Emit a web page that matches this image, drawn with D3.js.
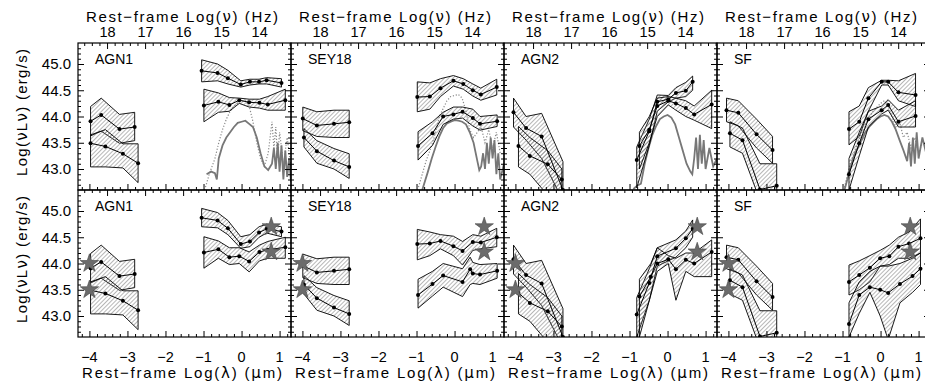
<!DOCTYPE html>
<html>
<head>
<meta charset="utf-8">
<script src="https://cdn.jsdelivr.net/npm/d3@7"></script>
<style>
  body { margin: 0; background: #fff; }
  svg text { font-family: "Liberation Sans", Arial, sans-serif; fill: #000; }
  svg tspan.greek { font-family: "DejaVu Sans", sans-serif; }
</style>
</head>
<body>
<svg id="chart" width="925" height="385"></svg>
<script>
// ---- data ----
const classes = ['AGN1', 'SEY18', 'AGN2', 'SF'];
const lambdaTicks = [-4, -3, -2, -1, 0, 1];
const nuTicks = [18, 17, 16, 15, 14];
const lumTicks = [43.0, 43.5, 44.0, 44.5, 45.0];

// X-ray bands (same in both rows)
const agn1XrayA = { x: [-3.97, -3.69, -3.21, -2.81], mid: [43.91, 44.03, 43.76, 43.80], hi: [44.19, 44.35, 44.04, 44.08], lo: [43.63, 43.72, 43.49, 43.54] };
const agn1XrayB = { x: [-3.97, -3.58, -3.12, -2.72], mid: [43.49, 43.43, 43.29, 43.11], hi: [43.65, 43.75, 43.48, 43.48], lo: [43.04, 43.04, 43.02, 42.74] };
const sey18XrayA = { x: [-3.99, -3.62, -3.17, -2.77], mid: [43.96, 43.83, 43.86, 43.89], hi: [44.18, 44.09, 44.12, 44.12], lo: [43.73, 43.62, 43.60, 43.60] };
const sey18XrayB = { x: [-3.96, -3.62, -3.17, -2.77], mid: [43.60, 43.34, 43.16, 43.04], hi: [43.77, 43.54, 43.39, 43.29], lo: [43.42, 43.11, 43.00, 42.82] };
const agn2XrayA = { x: [-4.05, -3.72, -3.31, -2.75], mid: [44.08, 43.78, 43.62, 42.60], hi: [44.35, 44.00, 44.06, 43.14], lo: [43.80, 43.55, 43.20, 42.40] };
const agn2XrayB = { x: [-3.92, -3.62, -3.15, -2.78], mid: [43.44, 43.25, 43.09, 42.80], hi: [43.81, 43.60, 43.35, 43.00], lo: [43.04, 42.90, 42.50, 42.40] };
const sfXrayA = { x: [-4.05, -3.74, -3.26, -2.84], mid: [44.12, 44.07, 43.66, 43.36], hi: [44.35, 44.30, 43.95, 43.62], lo: [43.90, 43.82, 43.40, 43.11] };
const sfXrayB = { x: [-3.96, -3.63, -3.17, -2.73], mid: [43.68, 43.55, 42.61, 42.68], hi: [43.90, 43.78, 43.10, 43.10], lo: [43.42, 43.30, 42.40, 42.40] };

// optical / IR bands, top row
const agn1OirTopA = { x: [-1.05, -0.63, -0.36, -0.02, 0.22, 0.46, 0.66, 1.05], mid: [44.87, 44.83, 44.73, 44.61, 44.66, 44.66, 44.69, 44.64], hi: [45.08, 45.00, 44.88, 44.68, 44.71, 44.71, 44.74, 44.72], lo: [44.66, 44.68, 44.62, 44.56, 44.60, 44.62, 44.62, 44.56] };
const agn1OirTopB = { x: [-0.99, -0.61, -0.32, -0.06, 0.20, 0.47, 0.69, 1.15], mid: [44.21, 44.28, 44.22, 44.31, 44.27, 44.26, 44.23, 44.31], hi: [44.52, 44.45, 44.36, 44.35, 44.33, 44.33, 44.38, 44.52], lo: [43.90, 44.08, 44.10, 44.25, 44.18, 44.16, 44.12, 44.12] };
const sey18OirTopA = { x: [-0.98, -0.65, -0.37, -0.03, 0.23, 0.48, 0.69, 1.11], mid: [44.37, 44.38, 44.54, 44.68, 44.62, 44.50, 44.42, 44.56], hi: [44.66, 44.64, 44.72, 44.78, 44.72, 44.62, 44.54, 44.71], lo: [44.09, 44.14, 44.38, 44.58, 44.52, 44.39, 44.31, 44.41] };
const sey18OirTopB = { x: [-0.96, -0.58, -0.30, -0.03, 0.21, 0.48, 0.67, 1.12], mid: [43.44, 43.68, 44.00, 44.04, 44.09, 43.97, 43.86, 43.91], hi: [43.71, 43.90, 44.08, 44.18, 44.18, 44.14, 44.00, 44.03], lo: [43.17, 43.45, 43.85, 43.95, 43.97, 43.82, 43.74, 43.81] };
const agn2OirTopA = { x: [-0.81, -0.48, -0.27, 0.02, 0.22, 0.48, 0.66], mid: [43.17, 43.72, 44.28, 44.33, 44.45, 44.49, 44.66], hi: [43.42, 43.95, 44.41, 44.40, 44.55, 44.65, 44.77], lo: [42.64, 43.45, 44.10, 44.28, 44.35, 44.38, 44.50] };
const agn2OirTopB = { x: [-0.74, -0.48, -0.27, 0.02, 0.22, 0.48, 0.70, 1.16], mid: [43.44, 43.75, 44.20, 44.30, 44.25, 44.16, 44.04, 44.23], hi: [43.70, 44.00, 44.35, 44.38, 44.35, 44.30, 44.20, 44.50], lo: [43.00, 43.50, 44.00, 44.22, 44.12, 44.00, 43.93, 43.77] };
const sfOirTopA = { x: [-0.83, -0.56, -0.32, 0.03, 0.20, 0.47, 0.92], mid: [43.76, 43.90, 44.35, 44.66, 44.66, 44.46, 44.41], hi: [44.09, 44.20, 44.55, 44.69, 44.69, 44.68, 44.82], lo: [43.46, 43.62, 44.10, 44.60, 44.60, 44.30, 44.19] };
const sfOirTopB = { x: [-0.83, -0.56, -0.32, 0.03, 0.20, 0.47, 0.92], mid: [42.90, 43.49, 43.95, 44.12, 44.22, 43.90, 44.01], hi: [43.20, 43.70, 44.10, 44.20, 44.32, 44.12, 44.30], lo: [42.60, 43.25, 43.80, 44.05, 44.12, 43.80, 43.80] };

// optical / IR bands, bottom row
const agn1OirBotA = { x: [-1.05, -0.63, -0.36, -0.02, 0.22, 0.46, 0.66, 1.05], mid: [44.87, 44.82, 44.67, 44.37, 44.42, 44.59, 44.66, 44.61], hi: [45.05, 44.97, 44.82, 44.51, 44.55, 44.70, 44.75, 44.70], lo: [44.70, 44.68, 44.55, 44.29, 44.32, 44.50, 44.58, 44.51] };
const agn1OirBotB = { x: [-0.99, -0.61, -0.32, -0.06, 0.20, 0.47, 0.69, 1.15], mid: [44.21, 44.27, 44.12, 44.14, 44.04, 44.22, 44.26, 44.31], hi: [44.51, 44.43, 44.30, 44.30, 44.22, 44.35, 44.42, 44.50], lo: [43.91, 44.10, 43.98, 44.00, 43.84, 44.05, 44.10, 44.10] };
const sey18OirBotA = { x: [-0.98, -0.65, -0.37, -0.03, 0.21, 0.48, 0.69, 1.11], mid: [44.37, 44.38, 44.43, 44.33, 44.24, 44.41, 44.40, 44.50], hi: [44.65, 44.60, 44.55, 44.52, 44.42, 44.55, 44.52, 44.67], lo: [44.07, 44.15, 44.28, 44.15, 43.97, 44.25, 44.28, 44.32] };
const sey18OirBotB = { x: [-0.96, -0.58, -0.30, 0.21, 0.41, 0.48, 0.67, 1.12], mid: [43.40, 43.61, 43.77, 43.65, 43.89, 43.81, 43.79, 43.86], hi: [43.70, 43.85, 44.00, 43.90, 44.12, 44.02, 43.98, 44.00], lo: [43.15, 43.38, 43.55, 43.37, 43.60, 43.62, 43.60, 43.72] };
const agn2OirBotA = { x: [-0.81, -0.48, -0.27, 0.22, 0.48, 0.66], mid: [43.03, 43.63, 44.14, 44.29, 44.48, 44.66], hi: [43.35, 43.90, 44.30, 44.45, 44.62, 44.83], lo: [42.60, 43.30, 43.95, 44.12, 44.30, 44.50] };
const agn2OirBotB = { x: [-0.74, -0.44, -0.27, 0.02, 0.22, 0.48, 0.70, 1.16], mid: [43.37, 43.75, 44.00, 44.08, 43.89, 44.07, 44.00, 44.22], hi: [43.70, 44.00, 44.30, 44.15, 44.10, 44.20, 44.20, 44.45], lo: [42.60, 43.40, 43.85, 44.00, 43.30, 43.85, 43.75, 43.75] };
const sfOirBotA = { x: [-0.83, -0.56, -0.28, -0.01, 0.23, 0.47, 0.75, 1.05], mid: [43.65, 43.78, 43.92, 44.10, 44.14, 44.32, 44.38, 44.48], hi: [43.97, 44.05, 44.15, 44.25, 44.35, 44.50, 44.60, 44.85], lo: [43.40, 43.50, 43.65, 43.95, 43.98, 44.10, 44.10, 44.20] };
const sfOirBotB = { x: [-0.83, -0.56, -0.28, -0.01, 0.20, 0.51, 0.84, 1.05], mid: [42.85, 43.40, 43.55, 43.50, 43.44, 43.61, 43.76, 43.90], hi: [43.25, 43.65, 43.85, 43.95, 43.95, 44.00, 44.10, 44.20], lo: [42.60, 43.05, 43.45, 43.00, 42.55, 43.25, 43.45, 43.60] };

// gray template spectra (top row only)
const agn1SolidX = [-0.92, -0.8, -0.7, -0.65, -0.6, -0.5, -0.4, -0.3, -0.2, -0.1, 0.0, 0.1, 0.2, 0.3, 0.4, 0.5, 0.6, 0.7, 0.8, 0.85, 0.9, 0.95, 1.0, 1.05, 1.1, 1.15, 1.2, 1.25, 1.3];
const agn1SolidY = [42.90, 42.95, 42.92, 42.80, 43.20, 43.45, 43.60, 43.70, 43.80, 43.88, 43.90, 43.92, 43.86, 43.80, 43.60, 43.30, 43.05, 42.98, 43.10, 43.40, 43.00, 43.50, 42.95, 43.45, 42.80, 43.35, 42.85, 43.20, 42.75];
const agn1DotX = [-0.97, -0.85, -0.7, -0.6, -0.5, -0.4, -0.3, -0.2, -0.1, 0.0, 0.1, 0.2, 0.3, 0.4, 0.5, 0.6, 0.7, 0.8, 0.85, 0.9, 0.95, 1.0, 1.1, 1.2, 1.3];
const agn1DotY = [42.60, 42.90, 43.20, 43.50, 43.75, 43.95, 44.10, 44.20, 44.25, 44.30, 44.30, 44.20, 43.90, 43.50, 43.20, 43.05, 43.30, 43.90, 43.40, 43.80, 43.20, 43.70, 43.10, 43.60, 43.00];
const sey18SolidX = [-0.85, -0.7, -0.6, -0.5, -0.4, -0.3, -0.2, -0.1, 0.0, 0.1, 0.2, 0.3, 0.4, 0.5, 0.6, 0.65, 0.7, 0.75, 0.8, 0.85, 0.9, 0.95, 1.0, 1.05, 1.1, 1.15, 1.2, 1.3];
const sey18SolidY = [42.60, 42.95, 43.20, 43.42, 43.62, 43.78, 43.87, 43.90, 43.93, 43.92, 43.90, 43.85, 43.70, 43.50, 43.15, 42.98, 43.05, 43.30, 43.00, 43.50, 43.10, 43.60, 43.20, 43.55, 42.90, 43.30, 42.80, 43.10];
const sey18DotX = [-0.97, -0.85, -0.75, -0.6, -0.5, -0.4, -0.3, -0.2, -0.1, 0.0, 0.1, 0.2, 0.3, 0.4, 0.5, 0.6, 0.7, 0.8, 0.9, 1.0, 1.1, 1.2];
const sey18DotY = [42.60, 42.90, 43.15, 43.45, 43.70, 44.00, 44.15, 44.30, 44.38, 44.40, 44.42, 44.35, 44.10, 43.75, 43.60, 43.70, 43.80, 43.50, 43.75, 43.40, 43.70, 43.30];
const agn2SolidX = [-0.9, -0.8, -0.7, -0.6, -0.5, -0.4, -0.3, -0.2, -0.1, 0.0, 0.1, 0.2, 0.3, 0.4, 0.5, 0.6, 0.65, 0.7, 0.75, 0.8, 0.85, 0.9, 0.95, 1.0, 1.1, 1.2, 1.3];
const agn2SolidY = [42.62, 42.68, 42.72, 43.10, 43.40, 43.65, 43.82, 43.95, 44.00, 44.03, 43.98, 43.85, 43.60, 43.35, 43.10, 42.95, 42.90, 43.20, 43.60, 43.00, 43.65, 43.10, 43.55, 43.00, 43.40, 43.05, 43.20];
const agn2DotX = [];
const agn2DotY = [];
const sfSolidX = [-0.95, -0.9, -0.8, -0.7, -0.6, -0.5, -0.4, -0.3, -0.2, -0.1, 0.0, 0.1, 0.2, 0.3, 0.4, 0.5, 0.6, 0.7, 0.75, 0.8, 0.85, 0.9, 0.95, 1.0, 1.1, 1.2];
const sfSolidY = [42.60, 42.73, 43.00, 43.25, 43.40, 43.55, 43.70, 43.80, 43.88, 43.95, 44.00, 44.03, 44.00, 43.90, 43.75, 43.55, 43.36, 43.15, 43.50, 43.05, 43.60, 43.10, 43.70, 43.20, 43.60, 43.30];
const sfDotX = [-0.95, -0.8, -0.6, -0.4, -0.2, 0.0, 0.1, 0.2, 0.3, 0.4, 0.5, 0.6, 0.7, 0.8, 0.9, 1.0, 1.1];
const sfDotY = [42.65, 43.10, 43.50, 43.85, 44.10, 44.25, 44.30, 44.20, 44.00, 43.80, 43.90, 43.60, 43.70, 43.40, 43.60, 43.30, 43.50];

// stars in the bottom row
const starX = [-4.0, -4.0, 0.78, 0.78];
const starY = [44.0, 43.5, 44.7, 44.22];

const xrayBands = [[agn1XrayA, agn1XrayB], [sey18XrayA, sey18XrayB], [agn2XrayA, agn2XrayB], [sfXrayA, sfXrayB]];
const oirTopBands = [[agn1OirTopA, agn1OirTopB], [sey18OirTopA, sey18OirTopB], [agn2OirTopA, agn2OirTopB], [sfOirTopA, sfOirTopB]];
const oirBotBands = [[agn1OirBotA, agn1OirBotB], [sey18OirBotA, sey18OirBotB], [agn2OirBotA, agn2OirBotB], [sfOirBotA, sfOirBotB]];
const solidTemplates = [[agn1SolidX, agn1SolidY], [sey18SolidX, sey18SolidY], [agn2SolidX, agn2SolidY], [sfSolidX, sfSolidY]];
const dotTemplates = [[agn1DotX, agn1DotY], [sey18DotX, sey18DotY], [agn2DotX, agn2DotY], [sfDotX, sfDotY]];

// ---- layout ----
const colX0 = [78, 291, 504, 717];
const rowY0 = [43, 190];
const panelW = 213;
const panelH = 147;
const xDomain = [-4.3, 1.3];
const yDomain = [42.6, 45.4];
const logC = Math.log10(2.998e14); // c in micron/s
const majorLen = 6;
const minorLen = 3;

const svg = d3.select('#chart');
const defs = svg.append('defs');

defs.append('pattern')
  .attr('id', 'hatch')
  .attr('patternUnits', 'userSpaceOnUse')
  .attr('width', 3)
  .attr('height', 3)
  .attr('patternTransform', 'rotate(45)')
  .append('line')
  .attr('x1', 0).attr('y1', 0).attr('x2', 0).attr('y2', 3)
  .attr('stroke', '#707070')
  .attr('stroke-width', 1);

function range(a, b, step) {
  const out = [];
  for (let v = a; v <= b + 1e-9; v += step) out.push(Math.round(v * 100) / 100);
  return out;
}

const lambdaMinor = range(-4.2, 1.2, 0.2).filter(v => Math.abs(v - Math.round(v)) > 1e-6);
const nuMinor = range(13.2, 18.6, 0.2).filter(v => Math.abs(v - Math.round(v)) > 1e-6);
const lumMinor = range(42.7, 45.3, 0.1).filter(v => Math.abs(v * 2 - Math.round(v * 2)) > 1e-6);

function toPoints(band) {
  return band.x.map((v, i) => ({ x: v, mid: band.mid[i], lo: band.lo[i], hi: band.hi[i] }));
}

function drawBand(layer, band, x, y) {
  const pts = toPoints(band);
  const area = d3.area().x(d => x(d.x)).y0(d => y(d.lo)).y1(d => y(d.hi));
  layer.append('path')
    .attr('d', area(pts))
    .attr('fill', 'url(#hatch)')
    .attr('stroke', '#000')
    .attr('stroke-width', 0.9);
}

function drawBandCentre(layer, band, x, y) {
  const pts = toPoints(band);
  const line = d3.line().x(d => x(d.x)).y(d => y(d.mid));
  layer.append('path')
    .attr('d', line(pts))
    .attr('fill', 'none')
    .attr('stroke', '#000')
    .attr('stroke-width', 1);
  layer.selectAll(null)
    .data(pts)
    .join('circle')
    .attr('cx', d => x(d.x))
    .attr('cy', d => y(d.mid))
    .attr('r', 2)
    .attr('fill', '#000');
}

// text with the greek letters set in DejaVu so they read as nu / lambda / mu
function richText(sel, parts) {
  parts.forEach(p => {
    sel.append('tspan').attr('class', p.g ? 'greek' : null).text(p.t);
  });
}

function drawPanel(col, row) {
  const x0 = colX0[col];
  const y0 = rowY0[row];
  const x = d3.scaleLinear().domain(xDomain).range([x0, x0 + panelW]);
  const y = d3.scaleLinear().domain(yDomain).range([y0 + panelH, y0]);
  const clipId = `clip-${col}-${row}`;
  defs.append('clipPath').attr('id', clipId)
    .append('rect').attr('x', x0).attr('y', y0).attr('width', panelW).attr('height', panelH);

  const panel = svg.append('g').attr('class', `panel panel-${col}-${row}`);
  const plot = panel.append('g').attr('clip-path', `url(#${clipId})`);

  if (row === 0) {
    const [dx, dy] = dotTemplates[col];
    const dotLine = d3.line().x(d => x(d[0])).y(d => y(d[1]));
    if (dx.length) {
      plot.append('path')
        .attr('d', dotLine(dx.map((v, i) => [v, dy[i]])))
        .attr('fill', 'none')
        .attr('stroke', '#8a8a8a')
        .attr('stroke-width', 1.2)
        .attr('stroke-dasharray', '1.2,1.8');
    }
    const [sx, sy] = solidTemplates[col];
    plot.append('path')
      .attr('d', dotLine(sx.map((v, i) => [v, sy[i]])))
      .attr('fill', 'none')
      .attr('stroke', '#777')
      .attr('stroke-width', 1.8);
  }

  const oir = row === 0 ? oirTopBands[col] : oirBotBands[col];
  const bands = xrayBands[col].concat(oir);
  bands.forEach(b => drawBand(plot, b, x, y));
  bands.forEach(b => drawBandCentre(plot, b, x, y));

  if (row === 1) {
    plot.selectAll(null)
      .data(starX.map((v, i) => [v, starY[i]]))
      .join('path')
      .attr('d', d3.symbol(d3.symbolStar).size(105)())
      .attr('transform', d => `translate(${x(d[0])},${y(d[1])})`)
      .attr('fill', '#6b6b6b')
      .attr('stroke', '#444')
      .attr('stroke-width', 0.6);
  }

  // axes: ticks point into the panel
  const axes = panel.append('g').attr('class', 'axes');
  const bottomAxis = d3.axisBottom(x).tickValues(lambdaTicks).tickSizeInner(-majorLen).tickSizeOuter(0).tickFormat('');
  const bottomMinor = d3.axisBottom(x).tickValues(lambdaMinor).tickSizeInner(-minorLen).tickSizeOuter(0).tickFormat('');
  axes.append('g').attr('transform', `translate(0,${y0 + panelH})`).call(bottomAxis);
  axes.append('g').attr('transform', `translate(0,${y0 + panelH})`).call(bottomMinor);

  const nuPos = v => x(logC - v);
  const topAxis = g => {
    g.selectAll('line.major').data(nuTicks).join('line').attr('class', 'major')
      .attr('x1', nuPos).attr('x2', nuPos).attr('y1', 0).attr('y2', majorLen).attr('stroke', '#000');
    g.selectAll('line.minor').data(nuMinor.filter(v => logC - v >= xDomain[0] && logC - v <= xDomain[1])).join('line').attr('class', 'minor')
      .attr('x1', nuPos).attr('x2', nuPos).attr('y1', 0).attr('y2', minorLen).attr('stroke', '#000');
  };
  axes.append('g').attr('transform', `translate(0,${y0})`).call(topAxis);

  const leftAxis = d3.axisLeft(y).tickValues(lumTicks).tickSizeInner(-majorLen).tickSizeOuter(0).tickFormat('');
  const leftMinor = d3.axisLeft(y).tickValues(lumMinor).tickSizeInner(-minorLen).tickSizeOuter(0).tickFormat('');
  const rightAxis = d3.axisRight(y).tickValues(lumTicks).tickSizeInner(-majorLen).tickSizeOuter(0).tickFormat('');
  const rightMinor = d3.axisRight(y).tickValues(lumMinor).tickSizeInner(-minorLen).tickSizeOuter(0).tickFormat('');
  axes.append('g').attr('transform', `translate(${x0},0)`).call(leftAxis);
  axes.append('g').attr('transform', `translate(${x0},0)`).call(leftMinor);
  axes.append('g').attr('transform', `translate(${x0 + panelW},0)`).call(rightAxis);
  axes.append('g').attr('transform', `translate(${x0 + panelW},0)`).call(rightMinor);
  axes.selectAll('.domain').remove();
  axes.selectAll('line').attr('stroke', '#000').attr('stroke-width', 1);

  panel.append('rect')
    .attr('x', x0).attr('y', y0).attr('width', panelW).attr('height', panelH)
    .attr('fill', 'none').attr('stroke', '#000').attr('stroke-width', 1.2);

  panel.append('text')
    .attr('x', x0 + 17).attr('y', y0 + 20.5)
    .attr('font-size', 14)
    .text(classes[col]);

  if (row === 0) {
    axes.append('g').selectAll('text').data(nuTicks).join('text')
      .attr('x', nuPos).attr('y', y0 - 6)
      .attr('text-anchor', 'middle').attr('font-size', 14.5)
      .text(d => d);
    const t = panel.append('text')
      .attr('x', x0 + 8).attr('y', y0 - 21)
      .attr('font-size', 15)
      .attr('textLength', 192).attr('lengthAdjust', 'spacing');
    richText(t, [{ t: 'Rest\u2212frame Log(' }, { t: '\u03bd', g: true }, { t: ') (Hz)' }]);
  } else {
    axes.append('g').selectAll('text').data(lambdaTicks).join('text')
      .attr('x', d => x(d)).attr('y', y0 + panelH + 25)
      .attr('text-anchor', 'middle').attr('font-size', 14.5)
      .text(d => d3.format('d')(d));
    const t = panel.append('text')
      .attr('x', x0 + 4).attr('y', y0 + panelH + 41)
      .attr('font-size', 15)
      .attr('textLength', 200).attr('lengthAdjust', 'spacing');
    richText(t, [{ t: 'Rest\u2212frame Log(' }, { t: '\u03bb', g: true }, { t: ') (' }, { t: '\u03bc', g: true }, { t: 'm)' }]);
  }

  if (col === 0) {
    axes.append('g').selectAll('text').data(lumTicks).join('text')
      .attr('x', x0 - 7).attr('y', d => y(d)).attr('dy', '0.36em')
      .attr('text-anchor', 'end').attr('font-size', 15)
      .text(d => d3.format('.1f')(d));
    const my = y0 + panelH / 2 - 4;
    const t = panel.append('text')
      .attr('transform', `translate(27,${my}) rotate(-90)`)
      .attr('text-anchor', 'middle').attr('font-size', 15)
      .attr('textLength', 127).attr('lengthAdjust', 'spacing');
    richText(t, [{ t: 'Log(' }, { t: '\u03bd', g: true }, { t: 'L' }, { t: '\u03bd', g: true }, { t: ') (erg/s)' }]);
  }
}

[0, 1].forEach(row => classes.forEach((c, col) => drawPanel(col, row)));
</script>
</body>
</html>
